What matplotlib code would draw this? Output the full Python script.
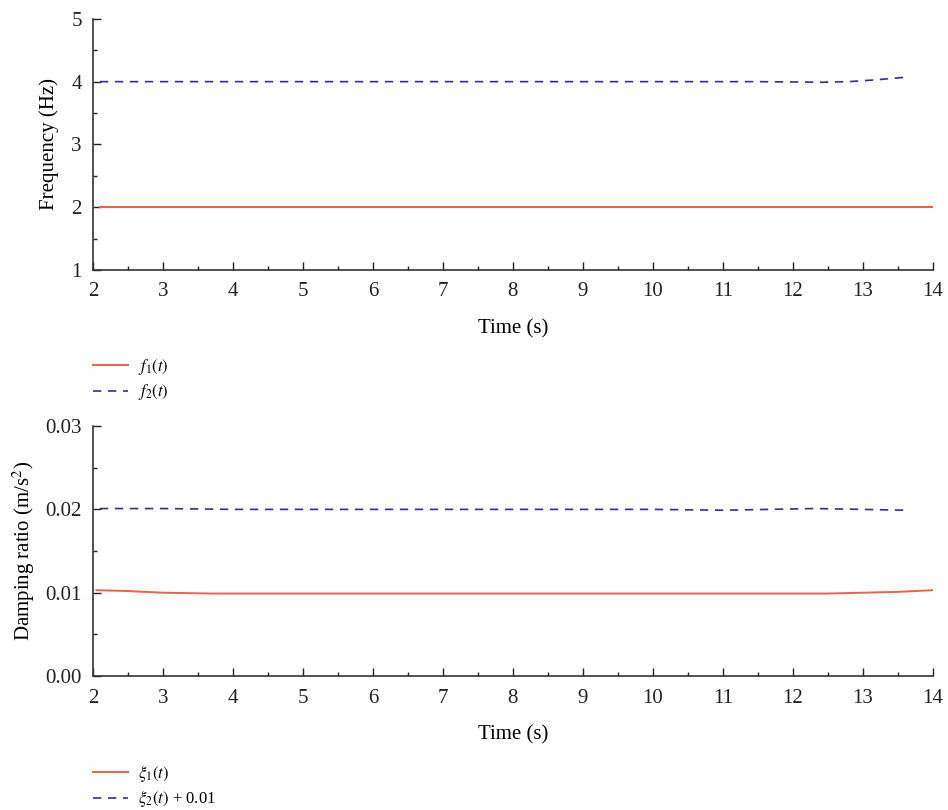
import numpy as np
import matplotlib
matplotlib.use('Agg')
import matplotlib.pyplot as plt
from matplotlib.ticker import MultipleLocator, FormatStrFormatter

plt.rcParams['font.family'] = ['Liberation Serif', 'DejaVu Serif']
plt.rcParams['mathtext.fontset'] = 'stix'

# frequency curves
t_f1 = [2.1, 4.0, 6.0, 8.0, 10.0, 12.0, 14.0]
f1 = [2.0, 2.0, 2.0, 2.0, 2.0, 2.0, 2.0]
t_f2 = [2.1, 4.0, 6.0, 8.0, 10.0, 11.5, 12.0, 12.4, 12.8, 13.2, 13.65]
f2 = [4.0, 4.0, 4.0, 4.0, 4.0, 4.0, 3.995, 3.99, 4.0, 4.03, 4.075]

# damping curves
t_d1 = [2.05, 2.5, 3.0, 3.7, 5.0, 8.0, 11.0, 12.5, 13.0, 13.5, 14.0]
d1 = [0.0103, 0.0102, 0.0100, 0.0099, 0.0099, 0.0099, 0.0099, 0.0099, 0.0100, 0.0101, 0.0103]
t_d2 = [2.1, 3.0, 4.0, 6.0, 8.0, 10.0, 11.0, 12.3, 13.0, 13.6]
d2 = [0.0201, 0.0201, 0.0200, 0.0200, 0.0200, 0.0200, 0.0199, 0.0201, 0.0200, 0.0199]

red = '#f0604a'
blue = '#352e91'


def style(ax):
    for s in ['top', 'right']:
        ax.spines[s].set_visible(False)
    for s in ['left', 'bottom']:
        ax.spines[s].set_color('#333333')
        ax.spines[s].set_linewidth(1.2)
    ax.tick_params(which='both', direction='in', labelsize=15, colors='#222222')
    ax.tick_params(which='major', length=6, width=1)
    ax.tick_params(which='minor', length=3, width=1)
    ax.tick_params(axis='x', which='major', pad=9)
    ax.tick_params(axis='y', which='major', pad=8)
    ax.xaxis.set_major_locator(MultipleLocator(1))
    ax.xaxis.set_minor_locator(MultipleLocator(0.5))
    ax.set_xlim(2, 14)
    ax.set_xlabel('Time (s)', fontsize=15, labelpad=13)


def legend(ax, y):
    ax.legend(loc='upper left', bbox_to_anchor=(0.0, y), frameon=False,
              fontsize=12, handlelength=2.1, handletextpad=0.6, borderpad=0,
              borderaxespad=0, labelspacing=0.35)


fig = plt.figure(figsize=(9.48, 8.1), dpi=100)
ax1 = fig.add_axes([0.098, 0.6667, 0.886, 0.31])
ax2 = fig.add_axes([0.098, 0.1654, 0.886, 0.3086])

ax1.plot(t_f1, f1, color=red, lw=1.4, label=r'$f_1(t)$')
ax1.plot(t_f2, f2, color=blue, lw=1.2, ls=(0, (5, 4)), label=r'$f_2(t)$')
style(ax1)
ax1.set_ylim(1, 5)
ax1.yaxis.set_major_locator(MultipleLocator(1))
ax1.yaxis.set_minor_locator(MultipleLocator(0.5))
ax1.set_ylabel('Frequency (Hz)', fontsize=15, labelpad=9)
legend(ax1, -0.345)

ax2.plot(t_d1, d1, color=red, lw=1.4, label=r'$\xi_1(t)$')
ax2.plot(t_d2, d2, color=blue, lw=1.2, ls=(0, (5, 4)), label=r'$\xi_2(t)$ + 0.01')
style(ax2)
ax2.set_ylim(0, 0.03)
ax2.yaxis.set_major_locator(MultipleLocator(0.01))
ax2.yaxis.set_minor_locator(MultipleLocator(0.005))
ax2.yaxis.set_major_formatter(FormatStrFormatter('%.2f'))
ax2.set_ylabel('Damping ratio (m/s$^2$)', fontsize=15, labelpad=6)
legend(ax2, -0.35)

fig.savefig('out.png', dpi=100)
plt.close(fig)
